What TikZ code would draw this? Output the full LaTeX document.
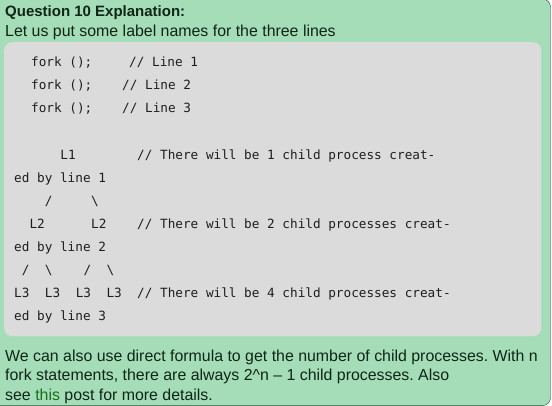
\documentclass[tikz,border=0pt]{standalone}
\usepackage{fontspec}
\setmainfont{Liberation Sans}
\setmonofont{DejaVu Sans Mono}
\usepackage{xcolor}
\definecolor{card_green}{HTML}{A5DDB8}
\definecolor{card_edge}{HTML}{1F4D2C}
\definecolor{code_gray}{HTML}{DBDBDB}
\definecolor{d_text}{HTML}{0F2616}
\definecolor{d_code}{HTML}{1E1E1E}
\definecolor{link_green}{HTML}{1B6E1B}
\frenchspacing

\tikzset{
  txt/.style={anchor=base west, inner sep=0pt, text=d_text, font=\fontsize{15.9}{19}\selectfont},
  code/.style={anchor=base west, inner sep=0pt, text=d_code, font=\fontsize{12.7}{15}\ttfamily},
}

\begin{document}
\begin{tikzpicture}[x=1pt,y=-1pt]
\useasboundingbox (0,0) rectangle (552,405);

\draw[fill=card_green, draw=card_edge, rounded corners=8pt] (-10,-1) rectangle (550.5,405.6);

\node[txt, font=\fontsize{15}{18}\selectfont\bfseries] (title) at (5,16) {Question 10 Explanation:};
\node[txt] (intro) at (5,36) {Let us put some label names for the three lines};

\node[fill=code_gray, rounded corners=8pt, minimum width=537pt, minimum height=294pt,
      anchor=north west, inner sep=0pt] (codebox) at (4,42) {};

% the three fork calls
\node[code] (fork1) at (31,66.7) {fork ();};
\node[code] (fork2) at (31,89.8) {fork ();};
\node[code] (fork3) at (31,112.9) {fork ();};
\node[code] (line1) at (129,66.7) {// Line 1};
\node[code] (line2) at (122,89.8) {// Line 2};
\node[code] (line3) at (122,112.9) {// Line 3};

% process tree
\node[code] (Lone) at (60.2,159.1) {L1};
\node[code] (cmone) at (137,159.1) {// There will be 1 child process creat-};
\node[code] (edone) at (14,182.2) {ed by line 1};

\node[code] (slA) at (44.8,205.3) {/};
\node[code] (slB) at (91,205.3) {\textbackslash};

\node[code] (LtwoA) at (29.4,228.4) {L2};
\node[code] (LtwoB) at (91,228.4) {L2};
\node[code] (cmtwo) at (137,228.4) {// There will be 2 child processes creat-};
\node[code] (edtwo) at (14,251.5) {ed by line 2};

\node[code] (slC) at (21.7,274.6) {/};
\node[code] (slD) at (44.8,274.6) {\textbackslash};
\node[code] (slE) at (83.3,274.6) {/};
\node[code] (slF) at (106.4,274.6) {\textbackslash};

\foreach \c/\n in {0/a,4/b,8/c,12/d}
  \node[code] (Lthree\n) at (14+7.7*\c,297.7) {L3};
\node[code] (cmthree) at (137,297.7) {// There will be 4 child processes creat-};
\node[code] (edthree) at (14,320.8) {ed by line 3};

\node[txt] (outA) at (5,361.7) {We can also use direct formula to get the number of child processes. With n};
\node[txt] (outB) at (5,380.7) {fork statements, there are always 2\textasciicircum n – 1 child processes. Also};
\node[txt] (outC) at (5,400) {see \textcolor{link_green}{this} post for more details.};

\end{tikzpicture}
\end{document}
